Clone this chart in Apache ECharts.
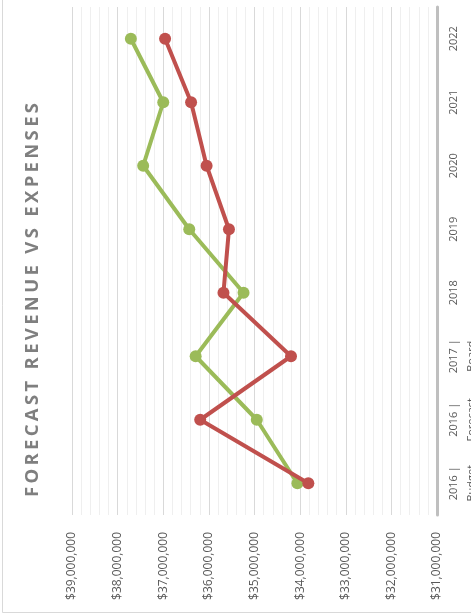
<!DOCTYPE html>
<html>
<head>
<meta charset="utf-8">
<script src="https://cdn.jsdelivr.net/npm/echarts@6/dist/echarts.min.js"></script>
<style>
  html, body { margin: 0; padding: 0; background: #ffffff; }
  #chart { width: 471px; height: 614px; }
</style>
</head>
<body>
<div id="chart"></div>
<script>
// Plan periods, drawn bottom-to-top along the right-hand axis
const categories = ['2016 | Budget', '2016 | Forecast', '2017 | Board', '2018', '2019', '2020', '2021', '2022'];

// Forecast revenue (green) and expenses (red), in dollars
const revenue  = [34060000, 34950000, 36290000, 35240000, 36430000, 37440000, 37000000, 37710000];
const expenses = [33820000, 36190000, 34200000, 35680000, 35560000, 36050000, 36390000, 36960000];

// Dollar scale shown along the bottom, high values on the left
const valueMin = 31000000;
const valueMax = 39000000;
const valueStep = 1000000;

const titleText = 'FORECAST REVENUE VS EXPENSES';

const chart = echarts.init(document.getElementById('chart'), null, { renderer: 'canvas' });

// Spaced-out vertical title: lay the letters out one by one along a rotated group
const titleFontSize = 18.5;
const titleFamily = '"Open Sans", "Noto Sans", sans-serif';
const titleLength = 394;
const measureCtx = document.createElement('canvas').getContext('2d');
measureCtx.font = 'bold ' + titleFontSize + 'px ' + titleFamily;
const chars = titleText.split('');
const natural = measureCtx.measureText(titleText).width;
const gap = (titleLength - natural) / (chars.length - 1);
const titleChildren = [];
chars.forEach(function (ch, i) {
  const offset = measureCtx.measureText(titleText.slice(0, i)).width + i * gap;
  titleChildren.push({
    type: 'text',
    x: offset,
    y: 0,
    style: {
      text: ch,
      fill: '#7f7f7f',
      font: 'bold ' + titleFontSize + 'px ' + titleFamily,
      align: 'left',
      verticalAlign: 'middle'
    }
  });
});

const option = {
  animation: false,
  backgroundColor: '#ffffff',
  // Fixed plot rectangle; the wrapped period labels may run past the right edge
  grid: { left: 72, right: 34, top: 7, bottom: 99, containLabel: false, outerBoundsMode: 'none' },
  xAxis: {
    type: 'value',
    inverse: true,
    position: 'bottom',
    min: valueMin,
    max: valueMax,
    interval: valueStep,
    axisLine: { show: false },
    axisTick: { show: false },
    axisLabel: {
      rotate: 90,
      margin: 17,
      color: '#595959',
      fontFamily: '"Open Sans", sans-serif',
      fontSize: 12,
      formatter: function (v) { return '$' + v.toLocaleString('en-US'); }
    },
    splitLine: { show: true, lineStyle: { color: '#d9d9d9', width: 1 } },
    minorTick: { show: false, splitNumber: 5 },
    minorSplitLine: { show: true, lineStyle: { color: '#efefef', width: 1 } }
  },
  yAxis: {
    type: 'category',
    position: 'right',
    data: categories,
    boundaryGap: true,
    axisLine: { show: true, lineStyle: { color: '#bfbfbf', width: 3 } },
    axisTick: { show: false },
    splitLine: { show: false },
    axisLabel: {
      rotate: 90,
      margin: 8,
      color: '#595959',
      fontFamily: '"Open Sans", sans-serif',
      fontSize: 11,
      lineHeight: 18,
      formatter: function (s) { return s.replace('| ', '|\n'); }
    }
  },
  graphic: [
    {
      type: 'rect',
      silent: true,
      shape: { x: 2.5, y: -6.5, width: 600, height: 619 },
      style: { fill: 'none', stroke: '#d9d9d9', lineWidth: 1 }
    },
    {
      type: 'group',
      x: 33,
      y: 497,
      rotation: Math.PI / 2,
      children: titleChildren
    }
  ],
  series: [
    {
      name: 'Revenue',
      type: 'line',
      data: revenue,
      symbol: 'circle',
      symbolSize: 12,
      color: '#9bbb59',
      lineStyle: { width: 4, color: '#9bbb59' },
      itemStyle: { color: '#9bbb59' },
      z: 2
    },
    {
      name: 'Expenses',
      type: 'line',
      data: expenses,
      symbol: 'circle',
      symbolSize: 12,
      color: '#c0504d',
      lineStyle: { width: 4, color: '#c0504d' },
      itemStyle: { color: '#c0504d' },
      z: 3
    }
  ]
};

chart.setOption(option);
</script>
</body>
</html>
